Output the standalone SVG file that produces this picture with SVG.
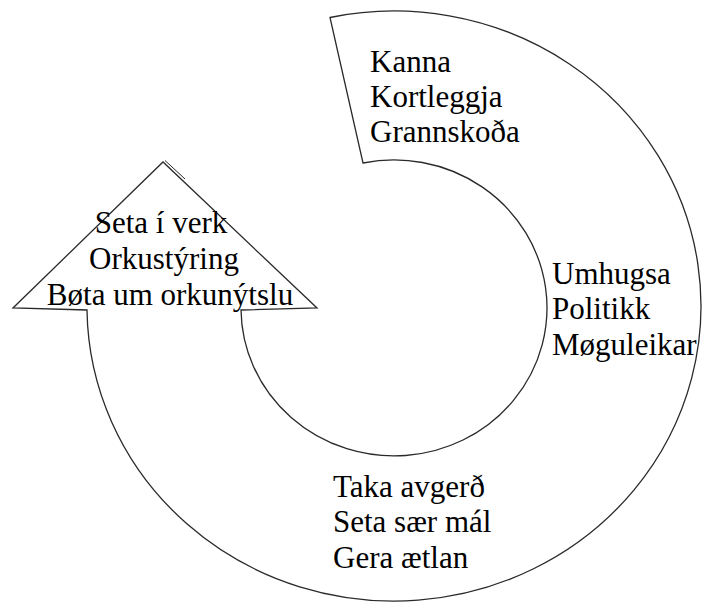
<svg xmlns="http://www.w3.org/2000/svg" width="704" height="605" viewBox="0 0 704 605">
<style>
.shape{fill:#ffffff;stroke:#2a2a2a;stroke-width:1.3;stroke-linejoin:miter}
.t{font-family:"Liberation Serif","Times New Roman",serif;font-size:31px;fill:#000}
.m{text-anchor:middle}
</style>
<rect width="704" height="605" fill="#ffffff"/>
<g id="cycle-arrow">
<path class="shape" d="M330,17.5 A307,295 0 1 1 87,310 L13,308 L163,162 L317,308 L241,310 A153,148 0 1 0 363,163 Z"/>
<path d="M165,160.5 L185,179" fill="none" stroke="#2a2a2a" stroke-width="1"/>
</g>
<g id="node-kanna">
<text class="t" x="370" y="72">Kanna</text>
<text class="t" x="370" y="107">Kortleggja</text>
<text class="t" x="370" y="142">Grannskoða</text>
</g>
<g id="node-umhugsa">
<text class="t" x="552" y="284">Umhugsa</text>
<text class="t" x="552" y="319">Politikk</text>
<text class="t" x="552" y="355">Møguleikar</text>
</g>
<g id="node-taka">
<text class="t" x="333" y="497">Taka avgerð</text>
<text class="t" x="333" y="532">Seta sær mál</text>
<text class="t" x="333" y="568">Gera ætlan</text>
</g>
<g id="node-seta">
<text class="t m" x="161" y="233">Seta í verk</text>
<text class="t m" x="164" y="269">Orkustýring</text>
<text class="t m" x="170" y="305">Bøta um orkunýtslu</text>
</g>
<g id="connectors"></g>
</svg>
